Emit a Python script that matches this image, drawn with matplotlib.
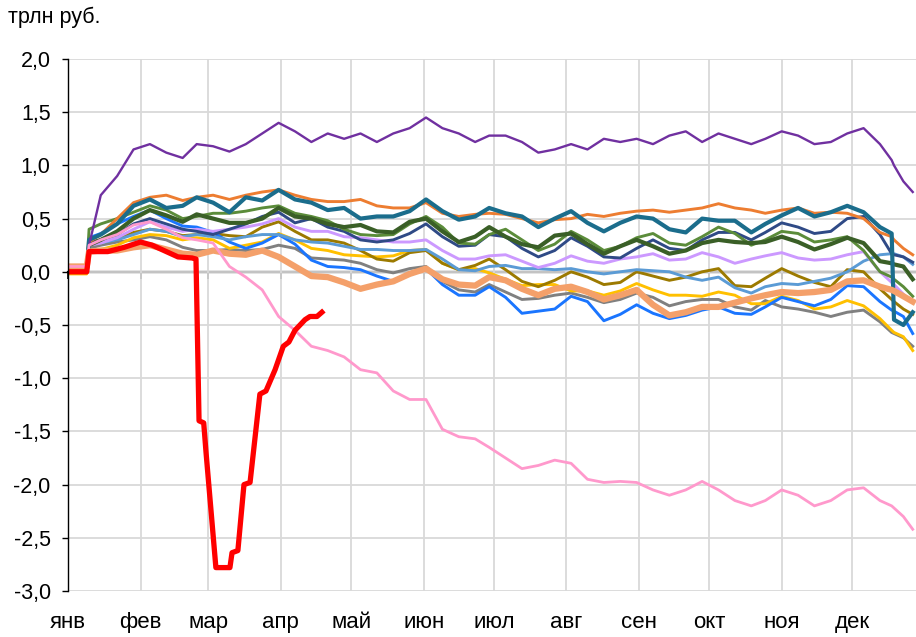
import matplotlib
matplotlib.use("Agg")
import matplotlib.pyplot as plt
from matplotlib.ticker import FuncFormatter

plt.rcParams['font.family'] = ['Liberation Sans', 'DejaVu Sans']

# day of year (leap year), common grid for the past years
days = [0, 8, 9, 14, 21, 28, 35, 42, 49, 55,
        62, 69, 76, 83, 90, 97, 104, 111, 118, 125,
        132, 139, 146, 153, 160, 167, 174, 180, 187, 194,
        201, 208, 215, 222, 229, 236, 243, 250, 257, 264,
        271, 278, 285, 292, 298, 305, 312, 319, 326, 333,
        340, 347, 352, 353, 357, 361]

purple = [0.05, 0.05, 0.25, 0.72, 0.9, 1.15, 1.2, 1.12, 1.07, 1.2,
          1.18, 1.13, 1.2, 1.3, 1.4, 1.32, 1.22, 1.3, 1.25, 1.3,
          1.22, 1.3, 1.35, 1.45, 1.35, 1.3, 1.22, 1.28, 1.28, 1.22,
          1.12, 1.15, 1.2, 1.15, 1.25, 1.22, 1.25, 1.2, 1.28, 1.32,
          1.22, 1.3, 1.25, 1.2, 1.25, 1.32, 1.28, 1.2, 1.22, 1.3,
          1.35, 1.2, 1.05, 1.0, 0.85, 0.75]
orange = [0.03, 0.03, 0.28, 0.35, 0.5, 0.65, 0.7, 0.72, 0.67, 0.7,
          0.72, 0.68, 0.72, 0.75, 0.77, 0.72, 0.68, 0.66, 0.66, 0.68,
          0.62, 0.6, 0.6, 0.65, 0.55, 0.52, 0.54, 0.55, 0.54, 0.5,
          0.46, 0.49, 0.5, 0.54, 0.52, 0.55, 0.57, 0.58, 0.56, 0.58,
          0.6, 0.64, 0.6, 0.58, 0.55, 0.58, 0.6, 0.55, 0.56, 0.55,
          0.5, 0.37, 0.33, 0.3, 0.22, 0.16]
teal = [0, 0, 0.3, 0.35, 0.45, 0.62, 0.68, 0.6, 0.62, 0.7,
        0.65, 0.56, 0.7, 0.67, 0.77, 0.68, 0.65, 0.58, 0.6, 0.5,
        0.52, 0.52, 0.57, 0.68, 0.57, 0.49, 0.52, 0.6, 0.55, 0.52,
        0.42, 0.5, 0.57, 0.46, 0.38, 0.46, 0.52, 0.5, 0.4, 0.37,
        0.5, 0.48, 0.48, 0.37, 0.45, 0.53, 0.6, 0.52, 0.56, 0.62,
        0.56, 0.42, 0.36, -0.45, -0.5, -0.38]
dkgreen = [0, 0, 0.25, 0.3, 0.38, 0.5, 0.58, 0.53, 0.47, 0.54,
           0.5, 0.46, 0.46, 0.5, 0.6, 0.52, 0.5, 0.45, 0.42, 0.44,
           0.38, 0.37, 0.47, 0.5, 0.38, 0.28, 0.33, 0.42, 0.33, 0.26,
           0.23, 0.34, 0.36, 0.26, 0.17, 0.24, 0.3, 0.24, 0.17, 0.2,
           0.27, 0.3, 0.28, 0.27, 0.28, 0.33, 0.28, 0.21, 0.26, 0.32,
           0.27, 0.1, 0.08, 0.07, 0.05, -0.07]
green = [0, 0, 0.4, 0.45, 0.5, 0.56, 0.62, 0.58, 0.5, 0.52,
         0.55, 0.55, 0.57, 0.6, 0.62, 0.55, 0.52, 0.48, 0.4, 0.35,
         0.34, 0.35, 0.45, 0.52, 0.42, 0.27, 0.26, 0.35, 0.4, 0.3,
         0.2, 0.26, 0.38, 0.3, 0.2, 0.24, 0.32, 0.36, 0.27, 0.25,
         0.33, 0.42, 0.36, 0.25, 0.3, 0.38, 0.36, 0.28, 0.3, 0.33,
         0.2, 0.0, -0.05, -0.07, -0.14, -0.23]
navy = [0, 0, 0.28, 0.3, 0.35, 0.45, 0.5, 0.45, 0.4, 0.38,
        0.35, 0.4, 0.45, 0.52, 0.56, 0.46, 0.5, 0.42, 0.38, 0.3,
        0.28, 0.3, 0.36, 0.45, 0.33, 0.24, 0.25, 0.35, 0.33, 0.22,
        0.14, 0.2, 0.32, 0.24, 0.14, 0.13, 0.22, 0.3, 0.22, 0.2,
        0.3, 0.37, 0.37, 0.3, 0.37, 0.46, 0.42, 0.36, 0.38, 0.5,
        0.52, 0.35, 0.17, 0.16, 0.14, 0.09]
lavender = [0, 0, 0.25, 0.27, 0.32, 0.4, 0.47, 0.42, 0.38, 0.4,
            0.38, 0.4, 0.42, 0.45, 0.5, 0.42, 0.38, 0.38, 0.33, 0.32,
            0.3, 0.28, 0.28, 0.3, 0.2, 0.12, 0.12, 0.15, 0.16, 0.1,
            0.04, 0.08, 0.15, 0.1, 0.08, 0.12, 0.14, 0.17, 0.11, 0.12,
            0.18, 0.14, 0.08, 0.12, 0.15, 0.18, 0.13, 0.11, 0.12, 0.16,
            0.19, 0.0, -0.1, -0.12, -0.21, -0.29]
ltblue = [0, 0, 0.25, 0.27, 0.3, 0.35, 0.4, 0.38, 0.33, 0.35,
          0.33, 0.3, 0.33, 0.35, 0.35, 0.3, 0.28, 0.27, 0.24, 0.21,
          0.21, 0.2, 0.2, 0.21, 0.12, 0.02, 0.01, 0.05, 0.06, 0.03,
          0.03, 0.02, 0.03, 0.0, -0.02, 0.0, 0.02, 0.01, 0.0, -0.05,
          -0.08, -0.05, -0.15, -0.2, -0.14, -0.11, -0.12, -0.09, -0.06, 0.0,
          0.1, 0.16, 0.17, 0.17, 0.14, 0.07]
blue = [0, 0, 0.32, 0.36, 0.45, 0.52, 0.58, 0.5, 0.43, 0.42,
        0.37, 0.28, 0.22, 0.27, 0.35, 0.26, 0.11, 0.05, 0.04, 0.02,
        -0.04, -0.09, -0.01, 0.03, -0.12, -0.22, -0.22, -0.14, -0.24, -0.39,
        -0.37, -0.35, -0.23, -0.28, -0.46, -0.4, -0.31, -0.39, -0.44, -0.41,
        -0.36, -0.33, -0.39, -0.4, -0.33, -0.24, -0.28, -0.32, -0.26, -0.13,
        -0.14, -0.28, -0.36, -0.37, -0.42, -0.58]
gold = [-0.02, -0.02, 0.18, 0.21, 0.25, 0.32, 0.35, 0.34, 0.3, 0.32,
        0.3, 0.22, 0.25, 0.28, 0.36, 0.3, 0.22, 0.2, 0.16, 0.15,
        0.14, 0.15, 0.2, 0.21, 0.08, 0.02, 0.03, -0.01, -0.07, -0.13,
        -0.12, -0.12, -0.18, -0.18, -0.22, -0.18, -0.11, -0.17, -0.22, -0.22,
        -0.23, -0.19, -0.22, -0.3, -0.3, -0.23, -0.27, -0.35, -0.33, -0.27,
        -0.32, -0.44, -0.55, -0.57, -0.61, -0.74]
olive = [0, 0, 0.25, 0.27, 0.3, 0.37, 0.4, 0.38, 0.34, 0.35,
         0.36, 0.34, 0.33, 0.42, 0.47, 0.38, 0.3, 0.3, 0.27, 0.2,
         0.12, 0.1, 0.18, 0.2, 0.08, 0.02, 0.06, 0.12, 0.02, -0.09,
         -0.14, -0.08, 0.0, -0.05, -0.12, -0.1, 0.0, -0.04, -0.08, -0.05,
         0.0, 0.03, -0.13, -0.14, -0.06, 0.03, -0.04, -0.1, -0.14, 0.02,
         0.0, -0.16, -0.26, -0.28, -0.35, -0.4]
gray = [0, 0, 0.22, 0.25, 0.28, 0.3, 0.33, 0.3, 0.23, 0.2,
        0.2, 0.21, 0.2, 0.21, 0.25, 0.22, 0.13, 0.12, 0.11, 0.08,
        0.02, -0.01, 0.03, 0.05, -0.09, -0.17, -0.19, -0.12, -0.19, -0.26,
        -0.25, -0.22, -0.2, -0.24, -0.29, -0.26, -0.2, -0.24, -0.32, -0.28,
        -0.26, -0.26, -0.33, -0.36, -0.27, -0.33, -0.35, -0.38, -0.42, -0.38,
        -0.36, -0.47, -0.57, -0.58, -0.62, -0.7]
salmon = [0.05, 0.05, 0.19, 0.2, 0.2, 0.23, 0.25, 0.21, 0.17, 0.16,
          0.2, 0.17, 0.16, 0.2, 0.14, 0.05, -0.04, -0.05, -0.1, -0.16,
          -0.12, -0.09, -0.02, 0.03, -0.07, -0.12, -0.13, -0.05, -0.08, -0.16,
          -0.22, -0.16, -0.14, -0.19, -0.26, -0.22, -0.17, -0.31, -0.41, -0.38,
          -0.33, -0.33, -0.29, -0.25, -0.22, -0.19, -0.2, -0.19, -0.17, -0.09,
          -0.08, -0.14, -0.17, -0.18, -0.23, -0.28]
pink = [0.05, 0.05, 0.25, 0.3, 0.35, 0.44, 0.47, 0.4, 0.32, 0.3,
        0.27, 0.05, -0.05, -0.17, -0.42, -0.55, -0.7, -0.74, -0.8, -0.92,
        -0.95, -1.12, -1.2, -1.2, -1.48, -1.55, -1.57, -1.65, -1.75, -1.85,
        -1.82, -1.77, -1.8, -1.95, -1.98, -1.97, -1.98, -2.05, -2.1, -2.05,
        -1.97, -2.05, -2.15, -2.2, -2.15, -2.05, -2.1, -2.2, -2.15, -2.05,
        -2.03, -2.15, -2.2, -2.22, -2.3, -2.42]

# current year, only to mid-April
red_days = [0, 8, 9, 17, 24, 31, 36, 42, 47, 53,
            54.7, 56, 58, 59, 63.2, 69.2, 70.1, 72.6, 75.2, 77.8,
            82, 84.6, 88.5, 92, 94.4, 97, 101.3, 103.4, 106.4, 108.5]
red = [0.0, 0.0, 0.19, 0.19, 0.23, 0.28, 0.25, 0.19, 0.14, 0.13,
       0.12, -1.4, -1.42, -1.7, -2.78, -2.78, -2.64, -2.62, -2.0, -1.98,
       -1.15, -1.12, -0.92, -0.7, -0.66, -0.55, -0.45, -0.42, -0.42, -0.38]

month_starts = [0, 31, 60, 91, 121, 152, 182, 213, 244, 274, 305, 335]
months = ['янв', 'фев', 'мар', 'апр', 'май', 'июн',
          'июл', 'авг', 'сен', 'окт', 'ноя', 'дек']

fig = plt.figure(figsize=(9.16, 6.37), dpi=100)
ax = fig.add_axes([68/916, 1-591/637, 848/916, 532/637])

# (series, color, width) in drawing order
lines = [
    (gray, '#808080', 2.1),
    (gold, '#FFC000', 2.1),
    (olive, '#9C7A00', 2.1),
    (blue, '#1A75FF', 2.1),
    (ltblue, '#5B9BD5', 2.1),
    (lavender, '#CC99FF', 2.1),
    (navy, '#2F4A86', 2.1),
    (green, '#5B8C3A', 2.1),
    (dkgreen, '#3A5F27', 3.0),
    (orange, '#ED7D31', 2.1),
    (teal, '#1B6D8C', 3.0),
    (purple, '#7030A0', 1.7),
    (salmon, '#F4A06A', 4.5),
    (pink, '#FF99CC', 2.0),
]
for vals, col, lw in lines:
    ax.plot(days, vals, color=col, lw=lw, solid_joinstyle='round')
ax.plot(red_days, red, color='#FF0000', lw=3.8, solid_joinstyle='round')

ax.set_xlim(0, 362.4)
ax.set_ylim(-3, 2)
ax.set_yticks([-3 + 0.5*i for i in range(11)])
ax.yaxis.set_major_formatter(FuncFormatter(lambda v, p: f'{v:.1f}'.replace('.', ',')))
ax.set_xticks(month_starts)
ax.set_xticklabels(months)
ax.tick_params(axis='x', length=0, pad=15, labelsize=16)
ax.tick_params(axis='y', direction='out', length=4.5, width=1, pad=8, labelsize=15.5)
ax.grid(True, color='#D9D9D9', lw=1.3)
ax.set_axisbelow(True)
for s in ['top', 'right', 'bottom']:
    ax.spines[s].set_visible(False)
ax.spines['left'].set_linewidth(1)

# zero axis with month ticks
zero = ax.secondary_xaxis(0.6)
zero.set_alignment('bottom')
zero.set_xticks(month_starts)
zero.tick_params(direction='out', length=5, width=1.2, labelbottom=False)
zero.spines['bottom'].set_linewidth(1.6)

fig.text(8/916, 1-23/637, 'трлн руб.', fontsize=15.5, va='baseline')

fig.savefig('out.png', dpi=100)
